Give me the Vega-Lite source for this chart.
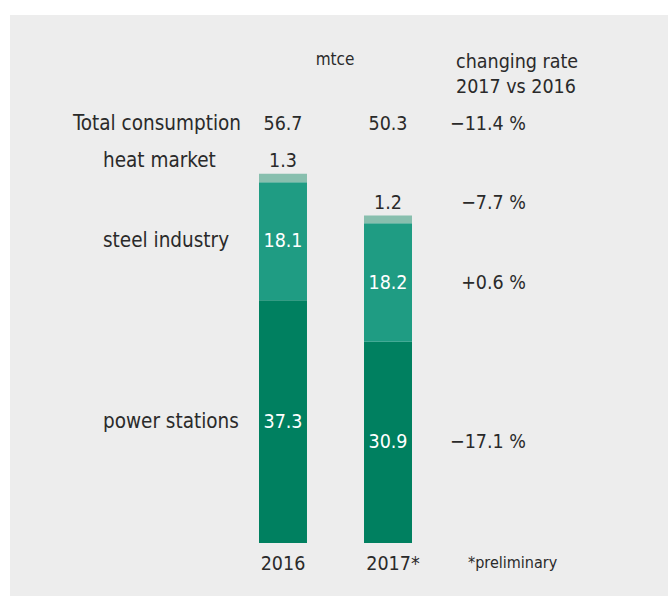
{
  "$schema": "https://vega.github.io/schema/vega-lite/v6.json",
  "width": 658,
  "height": 581,
  "autosize": "none",
  "padding": {"left": 10, "top": 15, "right": 0, "bottom": 0},
  "background": "#ffffff",
  "config": {
    "view": {"fill": "#ededed", "stroke": null},
    "text": {"font": "DejaVu Sans Condensed, Roboto Condensed, Roboto", "fontSize": 20.5, "color": "#2a2a2a"}
  },
  "datasets": {
    "segments": [
      {"year": "2016", "sector": "power stations", "layer": 1, "value": 37.3, "rate": ""},
      {"year": "2016", "sector": "steel industry", "layer": 2, "value": 18.1, "rate": ""},
      {"year": "2016", "sector": "heat market", "layer": 3, "value": 1.3, "rate": ""},
      {"year": "2017", "sector": "power stations", "layer": 1, "value": 30.9, "rate": "−17.1 %"},
      {"year": "2017", "sector": "steel industry", "layer": 2, "value": 18.2, "rate": "+0.6 %"},
      {"year": "2017", "sector": "heat market", "layer": 3, "value": 1.2, "rate": "−7.7 %"}
    ],
    "totals": [
      {"year": "2016", "yearLabel": "2016", "total": 56.7},
      {"year": "2017", "yearLabel": "2017*", "total": 50.3}
    ]
  },
  "encoding": {
    "x": {
      "field": "year",
      "type": "nominal",
      "axis": null,
      "scale": {
        "type": "band",
        "domain": ["label", "2016", "2017", "rate"],
        "range": [115.5, 535.5],
        "paddingInner": 0.543,
        "paddingOuter": 0.2714
      }
    }
  },
  "layer": [
    {
      "data": {"name": "segments"},
      "transform": [
        {"stack": "value", "groupby": ["year"], "sort": [{"field": "layer", "order": "ascending"}], "as": ["v0", "v1"]},
        {"calculate": "(datum.v0 + datum.v1) / 2", "as": "mid"}
      ],
      "layer": [
        {
          "mark": {"type": "bar"},
          "encoding": {
            "y": {"field": "v0", "type": "quantitative", "axis": null,
                  "scale": {"domain": [-8.14, 81.1], "nice": false, "zero": false}},
            "y2": {"field": "v1"},
            "color": {
              "field": "sector", "type": "nominal", "legend": null,
              "scale": {"domain": ["power stations", "steel industry", "heat market"],
                        "range": ["#008060", "#1f9c83", "#88bfae"]}
            }
          }
        },
        {
          "transform": [{"filter": "datum.sector !== 'heat market'"}],
          "mark": {"type": "text", "color": "#ffffff", "baseline": "middle", "fontSize": 19.5},
          "encoding": {
            "y": {"field": "mid", "type": "quantitative"},
            "text": {"field": "value", "type": "quantitative", "format": ".1f"}
          }
        },
        {
          "transform": [{"filter": "datum.sector === 'heat market'"}],
          "mark": {"type": "text", "baseline": "alphabetic", "dy": -7, "fontSize": 19.5},
          "encoding": {
            "y": {"field": "v1", "type": "quantitative"},
            "text": {"field": "value", "type": "quantitative", "format": ".1f"}
          }
        },
        {
          "transform": [{"filter": "datum.year === '2016' && datum.sector !== 'heat market'"}],
          "mark": {"type": "text", "align": "left", "baseline": "middle", "dx": -75},
          "encoding": {
            "x": {"datum": "label"},
            "y": {"field": "mid", "type": "quantitative"},
            "text": {"field": "sector"}
          }
        },
        {
          "transform": [{"filter": "datum.year === '2016' && datum.sector === 'heat market'"}],
          "mark": {"type": "text", "align": "left", "baseline": "alphabetic", "dx": -75, "dy": -7},
          "encoding": {
            "x": {"datum": "label"},
            "y": {"field": "v1", "type": "quantitative"},
            "text": {"field": "sector"}
          }
        },
        {
          "transform": [{"filter": "datum.year === '2017' && datum.sector !== 'heat market'"}],
          "mark": {"type": "text", "align": "right", "baseline": "middle", "dx": 33, "fontSize": 19.5},
          "encoding": {
            "x": {"datum": "rate"},
            "y": {"field": "mid", "type": "quantitative"},
            "text": {"field": "rate"}
          }
        },
        {
          "transform": [{"filter": "datum.year === '2017' && datum.sector === 'heat market'"}],
          "mark": {"type": "text", "align": "right", "baseline": "alphabetic", "dx": 33, "dy": -7, "fontSize": 19.5},
          "encoding": {
            "x": {"datum": "rate"},
            "y": {"field": "v1", "type": "quantitative"},
            "text": {"field": "rate"}
          }
        }
      ]
    },
    {
      "data": {"name": "totals"},
      "layer": [
        {
          "mark": {"type": "text", "baseline": "middle", "fontSize": 19.5},
          "encoding": {
            "y": {"datum": 64.4},
            "text": {"field": "total", "type": "quantitative", "format": ".1f"}
          }
        },
        {
          "transform": [{"filter": "datum.year === '2016'"}],
          "mark": {"type": "text", "baseline": "middle", "align": "left", "dx": -105},
          "encoding": {
            "x": {"datum": "label"},
            "y": {"datum": 64.4},
            "text": {"value": "Total consumption"}
          }
        },
        {
          "transform": [{"filter": "datum.year === '2016'"}],
          "mark": {"type": "text", "baseline": "middle", "align": "right", "dx": 33, "fontSize": 19.5},
          "encoding": {
            "x": {"datum": "rate"},
            "y": {"datum": 64.4},
            "text": {"value": "−11.4 %"}
          }
        },
        {
          "transform": [{"filter": "datum.year === '2016'"}],
          "mark": {"type": "text", "baseline": "middle", "fontSize": 17, "dx": 52},
          "encoding": {
            "x": {"datum": "2016"},
            "y": {"datum": 74.2},
            "text": {"value": "mtce"}
          }
        },
        {
          "transform": [{"filter": "datum.year === '2016'"}],
          "mark": {"type": "text", "baseline": "middle", "align": "left", "dx": -37, "lineHeight": 25, "fontSize": 19.5},
          "encoding": {
            "x": {"datum": "rate"},
            "y": {"datum": 73.9},
            "text": {"value": ["changing rate", "2017 vs 2016"]}
          }
        },
        {
          "transform": [{"filter": "datum.year === '2016'"}],
          "mark": {"type": "text", "baseline": "middle", "fontSize": 19.5},
          "encoding": {
            "y": {"datum": -3.2},
            "text": {"field": "yearLabel"}
          }
        },
        {
          "transform": [{"filter": "datum.year === '2017'"}],
          "mark": {"type": "text", "baseline": "middle", "fontSize": 19.5, "dx": 5},
          "encoding": {
            "y": {"datum": -3.2},
            "text": {"field": "yearLabel"}
          }
        },
        {
          "transform": [{"filter": "datum.year === '2017'"}],
          "mark": {"type": "text", "baseline": "middle", "align": "left", "dx": -25, "fontSize": 16},
          "encoding": {
            "x": {"datum": "rate"},
            "y": {"datum": -3.1},
            "text": {"value": "*preliminary"}
          }
        }
      ]
    }
  ]
}
